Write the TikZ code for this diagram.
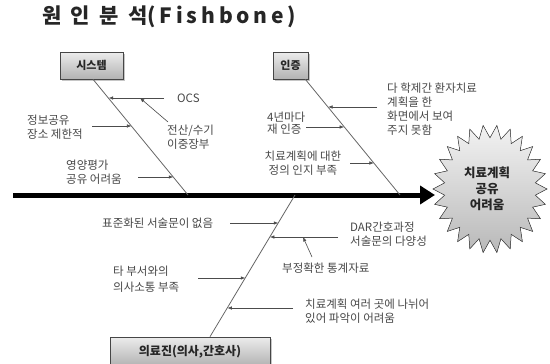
\documentclass[tikz,border=0pt]{standalone}
\usepackage{fontspec}
\setmainfont{Noto Sans CJK KR}
\usetikzlibrary{arrows.meta,calc,shadows}
\begin{document}
\begin{tikzpicture}[x=1pt,y=-1pt,
  cat/.style={draw=gray!55!black, line width=0.6pt, top color=gray!15, bottom color=gray!60,
    drop shadow={shadow xshift=1.5pt, shadow yshift=-1.5pt, opacity=0.45},
    font=\bfseries\fontsize{11}{13}\selectfont, text=black!85, inner sep=0pt},
  lbl/.style={font=\fontsize{11.5}{14}\selectfont, text=black!72, inner sep=0pt, align=left},
  ar/.style={draw=black!70, line width=0.6pt, -{Latex[length=4.5pt,width=3.5pt]}},
  bone/.style={draw=black!60, line width=0.8pt}]
\useasboundingbox (0,0) rectangle (550,364);

% title
\node[font=\bfseries\fontsize{21}{24}\selectfont, anchor=west, text=black!85, inner sep=0pt] (title) at (42,17)
  {원\hspace{0.45em}인\hspace{0.45em}분\hspace{0.45em}석{\addfontfeature{LetterSpace=18}(Fishbone)}};

% category boxes
\node[cat, minimum width=63pt, minimum height=27pt] (S) at (91.5,65.5) {시스템};
\node[cat, minimum width=35pt, minimum height=27pt] (I) at (290.5,65.5) {인증};
\node[cat, minimum width=160pt, minimum height=29pt, font=\bfseries\fontsize{12}{14}\selectfont] (M) at (190,351.5) {의료진(의사,간호사)};

% star (effect)
\filldraw[top color=gray!10, bottom color=gray!55, draw=gray!50!black, line width=0.5pt]
  (547,189) \foreach \k [evaluate=\k as \rr using {1-0.2*mod(\k,2)}] in {1,...,51} {
    -- ({490+\rr*57*cos(\k*6.92308)}, {189+\rr*64*sin(\k*6.92308)}) } -- cycle;
\node[font=\bfseries\fontsize{12.5}{16}\selectfont, align=center, text=black!85] (goal) at (487,189) {치료계획\\공유\\어려움};

% spine
\coordinate (tail) at (13,195);
\coordinate (head) at (435,195);
\draw[line width=5pt, -{Triangle[length=15pt,width=18pt]}] (tail) -- (head);

% bones
\coordinate (Sa) at ($(S.south)+(1.5,0)$);
\coordinate (Sb) at (188,195);
\coordinate (Ia) at ($(I.south east)+(-3,0)$);
\coordinate (Ib) at (400,195);
\coordinate (Ma) at ($(M.north)+(20,0)$);
\coordinate (Mb) at (295,195);
\draw[bone] (Sa) -- (Sb);
\draw[bone] (Ia) -- (Ib);
\draw[bone] (Ma) -- (Mb);

% points on bones
\coordinate (s1) at ($(Sa)!0.164!(Sb)$);
\coordinate (s2) at ($(Sa)!0.405!(Sb)$);
\coordinate (s3) at ($(Sa)!0.845!(Sb)$);
\coordinate (i1) at ($(Ia)!0.241!(Ib)$);
\coordinate (i2) at ($(Ia)!0.41!(Ib)$);
\coordinate (i3) at ($(Ia)!0.724!(Ib)$);
\coordinate (m1) at ($(Ma)!0.803!(Mb)$);
\coordinate (m2) at ($(Ma)!0.704!(Mb)$);
\coordinate (m3) at ($(Ma)!0.415!(Mb)$);
\coordinate (m4) at ($(Ma)!0.204!(Mb)$);

% labels - system
\node[lbl, anchor=west] (ocs) at (177,98) {OCS};
\node[lbl, anchor=west] (js) at (167,137) {전산/수기\\이중장부};
\node[lbl, anchor=west] (jb) at (27,127.5) {정보공유\\장소 제한적};
\node[lbl, anchor=west] (yy) at (66,172) {영양평가\\공유 어려움};
% labels - certification
\node[lbl, anchor=west] (dh) at (387,109) {다 학제간 환자치료\\계획을 한\\화면에서 보여\\주지 못함};
\node[lbl, anchor=west, font=\fontsize{11.5}{12}\selectfont] (sn) at (267,123) {4년마다\\재 인증};
\node[lbl, align=center] (cr) at (303,163) {치료계획에 대한\\정의 인지 부족};
% labels - medical staff
\node[lbl, anchor=west] (pj) at (102,223) {표준화된 서술문이 없음};
\node[lbl, anchor=west] (dar) at (350,234.5) {DAR간호과정\\서술문의 다양성};
\node[lbl, anchor=west] (bj) at (282,268) {부정확한 통계자료};
\node[lbl, anchor=west, font=\fontsize{11.5}{16}\selectfont] (tb) at (113,279) {타 부서와의\\의사소통 부족};
\node[lbl, anchor=west] (yr) at (305,311.5) {치료계획 여러 곳에 나뉘어\\있어 파악이 어려움};

% arrow start points
\coordinate (ocsS) at (164,98);
\coordinate (ocsM) at (140,98);
\coordinate (jsS) at (168,122);
\coordinate (jbS) at (92,126);
\coordinate (yyS) at (138,177);
\coordinate (dhS) at (377,107);
\coordinate (snS) at (306,127);
\coordinate (crS) at (350,163);
\coordinate (pjS) at (230,223);
\coordinate (darS) at (338,237);
\coordinate (darM) at (303,237);
\coordinate (bjS) at (312,257);
\coordinate (tbS) at (198,278);
\coordinate (yrS) at (293,308);

% arrows
\draw[ar] (ocsS) -- (ocsS -| s1);
\draw[ar] (jsS) -- (ocsM);
\draw[ar] (jbS) -- (jbS -| s2);
\draw[ar] (yyS) -- (yyS -| s3);
\draw[ar] (dhS) -- (dhS -| i1);
\draw[ar] (snS) -- (snS -| i2);
\draw[ar] (crS) -- (crS -| i3);
\draw[ar] (pjS) -- (pjS -| m1);
\draw[ar] (darS) -- (darS -| m2);
\draw[ar] (bjS) -- (darM);
\draw[ar] (tbS) -- (tbS -| m3);
\draw[ar] (yrS) -- (yrS -| m4);
\end{tikzpicture}
\end{document}
